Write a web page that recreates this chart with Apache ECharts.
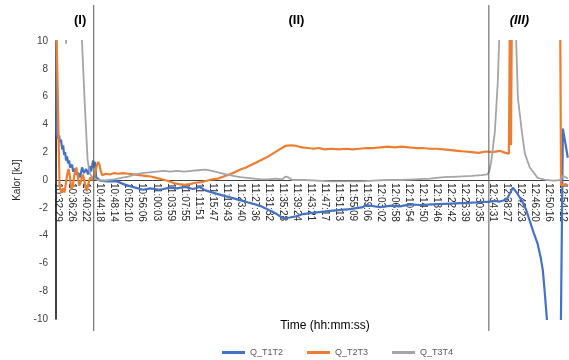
<!DOCTYPE html>
<html>
<head>
<meta charset="utf-8">
<script src="https://cdn.jsdelivr.net/npm/echarts@6/dist/echarts.min.js"></script>
<style>
  html, body { margin: 0; padding: 0; background: #fff; }
  #main { width: 569px; height: 360px; }
</style>
</head>
<body>
<div id="main"></div>
<script>
// tick labels on the time axis (x value = index in this list)
var tickLabels = [
  '10:32:29', '10:36:26', '10:40:22', '10:44:18', '10:48:14', '10:52:10', '10:56:06',
  '11:00:03', '11:03:59', '11:07:55', '11:11:51', '11:15:47', '11:19:43', '11:23:40',
  '11:27:36', '11:31:32', '11:35:28', '11:39:24', '11:43:21', '11:47:17', '11:51:13',
  '11:55:09', '11:59:06', '12:03:02', '12:06:58', '12:10:54', '12:14:50', '12:18:46',
  '12:22:42', '12:26:39', '12:30:35', '12:34:31', '12:38:27', '12:42:23', '12:46:20',
  '12:50:16', '12:54:12'
]

// [x, kJ]
var qT1T2 = [
  [-0.14, 10], [-0.1, 3.3], [-0.04, 3.0], [0.07, 3.2], [0.14, 2.7], [0.21, 2.9], [0.29, 2.2],
  [0.36, 2.5], [0.43, 1.8], [0.5, 2.0], [0.57, 1.4], [0.64, 1.7], [0.71, 1.2], [0.78, 1.4],
  [0.86, 0.9], [1.0, 1.1], [1.07, 0.6], [1.21, 0.8], [1.28, 0.4], [1.43, 0.5], [1.57, 0.2],
  [1.71, 0.9], [1.85, 0.5], [2.0, 0.8], [2.14, 0.4], [2.28, 1.0], [2.35, 0.6], [2.5, 1.4],
  [2.57, 0.9], [2.64, 1.3], [2.71, 0.2], [2.85, 0.1], [3.0, -0.05], [3.5, -0.1], [4.2, -0.1],
  [4.8, -0.35], [5.5, -0.55], [6.06, -0.7], [6.56, -0.6], [7.27, -0.7], [7.98, -0.55],
  [8.48, -0.6], [9.05, -0.5], [9.62, -0.65], [10.1, -0.5], [10.5, -0.75], [11.33, -1.0],
  [12.26, -1.25], [12.97, -1.45], [13.68, -1.65], [14.4, -1.85], [15.1, -2.2], [15.6, -2.45],
  [16.04, -2.75], [16.54, -2.7], [17.03, -2.6], [17.46, -2.45], [18.3, -2.35], [19.6, -2.2],
  [20.8, -2.1], [21.74, -1.95], [21.95, -1.8], [22.95, -1.95], [23.8, -1.85], [24.38, -1.9],
  [25.1, -1.75], [25.8, -1.8], [26.73, -1.75], [27.94, -1.7], [29.15, -1.65], [30.08, -1.6],
  [30.8, -1.55], [31.15, -1.5], [31.5, -1.55], [32.0, -1.4], [32.2, -1.0], [32.43, -0.55],
  [32.7, -0.9], [33.07, -1.5], [33.36, -2.1], [33.64, -2.95], [33.92, -3.8], [34.2, -4.6],
  [34.42, -5.6], [34.57, -6.5], [34.7, -8.0], [34.85, -9.9], [35.0, -11.5], [35.63, -12],
  [35.85, -11], [36.0, 3.7], [36.35, 1.6]
]

var qT2T3 = [
  [-0.14, 12], [0.1, -0.3], [0.14, -0.6], [0.25, -0.9], [0.35, -0.6], [0.45, -0.9], [0.55, -0.3],
  [0.65, 0.4], [0.75, 0.8], [0.85, 0.2], [0.95, -0.7], [1.05, -0.4], [1.15, 0.3], [1.3, 0.9],
  [1.4, 0.3], [1.5, -0.4], [1.6, -0.2], [1.75, 0.4], [1.85, 0.1], [1.95, -0.5], [2.05, -0.8],
  [2.15, -0.3], [2.3, 0.2], [2.45, 0.0], [2.6, 0.3], [2.75, 1.0], [2.87, 1.3], [2.95, 1.1],
  [3.05, 0.6], [3.15, 0.35], [3.4, 0.45], [3.7, 0.4], [4.0, 0.5], [4.3, 0.45], [4.6, 0.5],
  [5.0, 0.45], [5.4, 0.4], [5.8, 0.35], [6.2, 0.3], [6.6, 0.25], [7.0, 0.15], [7.4, 0.05],
  [7.8, -0.05], [8.2, -0.2], [8.6, -0.3], [9.0, -0.35], [9.4, -0.3], [9.8, -0.2], [10.2, -0.15],
  [10.6, -0.05], [11.0, 0.05], [11.4, 0.1], [11.8, 0.25], [12.2, 0.4], [12.6, 0.55], [13.0, 0.75],
  [13.4, 0.9], [13.8, 1.1], [14.2, 1.3], [14.6, 1.5], [15.0, 1.7], [15.4, 1.95], [15.8, 2.2],
  [16.2, 2.45], [16.6, 2.5], [17.0, 2.45], [17.4, 2.35], [17.8, 2.3], [18.2, 2.25], [18.6, 2.3],
  [19.0, 2.2], [19.5, 2.25], [20.0, 2.2], [20.5, 2.25], [21.0, 2.2], [21.5, 2.25], [22.0, 2.3],
  [22.5, 2.3], [23.0, 2.35], [23.5, 2.4], [24.0, 2.35], [24.5, 2.4], [25.0, 2.35], [25.5, 2.3],
  [26.0, 2.3], [26.5, 2.25], [27.0, 2.25], [27.5, 2.2], [28.0, 2.15], [28.5, 2.1], [29.0, 2.05],
  [29.5, 2.0], [30.0, 1.95], [30.5, 2.05], [31.0, 2.0], [31.5, 2.1], [31.9, 1.95], [32.15, 1.9],
  [32.22, 12], [32.3, 2.5], [32.36, 12], [35.8, 13], [35.87, -0.4], [36.0, -0.5], [36.2, -0.3],
  [36.35, -0.4]
]

var qT3T4 = [
  [-0.14, 14], [0.5, 13], [0.57, 9.8], [0.64, 13], [1.5, 14], [1.68, 10.5], [1.9, 5.5],
  [2.1, 1.5], [2.2, 0.8], [2.3, 0.4], [2.45, 0.2], [2.6, 0.1], [2.8, 0.0], [3.2, -0.05],
  [3.6, 0.0], [4.0, 0.05], [4.5, 0.15], [5.0, 0.25], [5.5, 0.4], [6.0, 0.5], [6.5, 0.55],
  [7.0, 0.6], [7.5, 0.65], [8.0, 0.6], [8.5, 0.65], [9.0, 0.6], [9.5, 0.65], [10.0, 0.7],
  [10.5, 0.75], [10.8, 0.7], [11.2, 0.6], [11.6, 0.5], [12.0, 0.4], [12.5, 0.3], [13.0, 0.2],
  [13.5, 0.15], [14.0, 0.1], [14.5, 0.05], [15.0, 0.05], [15.5, 0.1], [16.0, 0.05], [16.2, 0.25],
  [16.4, 0.2], [16.7, 0.0], [17.5, 0.0], [18.5, -0.05], [19.5, -0.1], [20.5, -0.1], [21.5, -0.1],
  [22.5, -0.05], [23.5, 0.0], [24.5, 0.0], [25.5, 0.05], [26.5, 0.1], [27.5, 0.2], [28.5, 0.25],
  [29.5, 0.3], [30.2, 0.35], [30.6, 0.4], [30.75, 0.6], [30.9, 1.4], [31.15, 3.5], [31.36, 7.1],
  [31.47, 10.5], [31.6, 13], [32.5, 14], [32.64, 11], [32.79, 5.9], [33.07, 3.5], [33.29, 1.9],
  [33.64, 0.9], [34.2, 0.15], [34.8, 0.0], [35.4, -0.05], [35.8, 0.0], [36.0, 0.3], [36.2, 0.2],
  [36.35, 0.1]
]

var seriesNames = ['Q_T1T2', 'Q_T2T3', 'Q_T3T4']
var seriesColors = ['#4472C4', '#ED7D31', '#A5A5A5']
var seriesData = [qT1T2, qT2T3, qT3T4]

// phase borders (x value) and phase labels
var phaseBorders = [2.54, 30.72]
var phaseLabels = [
  { text: '(I)', x: 1.57, italic: false },
  { text: '(II)', x: 17.0, italic: false },
  { text: '(III)', x: 32.9, italic: true }
]

var font = 'Liberation Sans, Arial, sans-serif'
var gridTop = 41
var gridBottom = 41
var myChart = echarts.init(document.getElementById('main'))

myChart.setOption({
  animation: false,
  backgroundColor: '#fff',
  grid: { left: 56, right: 0.5, top: gridTop, bottom: gridBottom },
  legend: {
    left: 217,
    top: 343,
    icon: 'rect',
    itemWidth: 23,
    itemHeight: 3,
    itemGap: 24,
    textStyle: { fontSize: 9, color: '#595959', fontFamily: font },
    data: seriesNames
  },
  xAxis: {
    type: 'value',
    min: -0.15,
    max: 36.4,
    position: 'bottom',
    // Achse auf die Nulllinie schieben (halbe Gitterhöhe nach oben)
    offset: -(360 - gridTop - gridBottom) / 2,
    axisLine: { onZero: false, lineStyle: { color: '#404040', width: 1 } },
    axisTick: { show: false },
    splitLine: { show: false },
    axisLabel: {
      customValues: tickLabels.map(function (t, i) { return i }),
      formatter: function (v) { return tickLabels[Math.round(v)] },
      rotate: -90,
      fontSize: 10,
      margin: 3,
      color: '#262626',
      fontFamily: font
    }
  },
  yAxis: {
    type: 'value',
    min: -10,
    max: 10,
    interval: 2,
    name: 'Kalor [kJ]',
    nameLocation: 'middle',
    nameGap: 32,
    nameTextStyle: { fontSize: 10, color: '#262626', fontFamily: font },
    axisLine: { show: true, onZero: false, lineStyle: { color: '#000', width: 1.5 } },
    axisTick: { show: false },
    splitLine: { show: false },
    axisLabel: { fontSize: 10, color: '#404040', margin: 8, fontFamily: font }
  },
  series: seriesData.map(function (d, k) {
    return {
      name: seriesNames[k],
      type: 'line',
      data: d,
      symbol: 'none',
      clip: true,
      lineStyle: { color: seriesColors[k], width: k === 2 ? 1.8 : 2.2 },
      itemStyle: { color: seriesColors[k] }
    }
  })
})

// Trennlinien und Beschriftungen der Phasen
var graphics = []
phaseBorders.forEach(function (b) {
  var px = myChart.convertToPixel({ xAxisIndex: 0 }, b)
  graphics.push({
    type: 'line',
    shape: { x1: px, y1: 5, x2: px, y2: 331 },
    style: { stroke: '#595959', lineWidth: 1 },
    z: 10
  })
})
phaseLabels.forEach(function (p) {
  graphics.push({
    type: 'text',
    x: myChart.convertToPixel({ xAxisIndex: 0 }, p.x),
    y: 20,
    style: {
      text: p.text,
      align: 'center',
      verticalAlign: 'middle',
      fontSize: 13,
      fontWeight: 'bold',
      fontStyle: p.italic ? 'italic' : 'normal',
      fill: '#000',
      fontFamily: font
    }
  })
})
graphics.push({
  type: 'text',
  x: 325,
  y: 326,
  style: {
    text: 'Time (hh:mm:ss)',
    align: 'center',
    verticalAlign: 'middle',
    fontSize: 12,
    fill: '#000',
    fontFamily: font
  }
})
myChart.setOption({ graphic: graphics })
</script>
</body>
</html>
